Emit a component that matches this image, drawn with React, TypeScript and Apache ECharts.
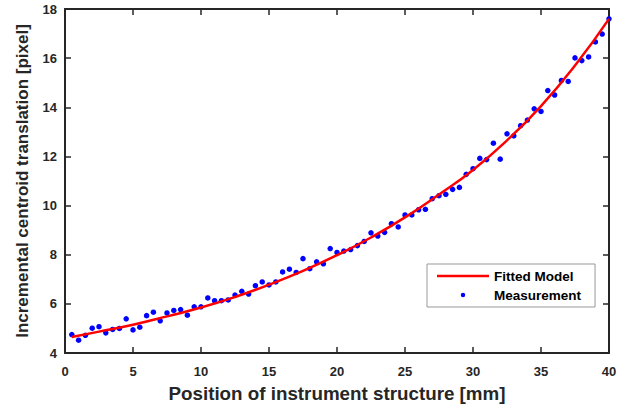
import React, { useEffect, useRef } from "react";
import * as echarts from "echarts";

const measX: number[] = [
  0.5, 1.0, 1.5, 2.0, 2.5, 3.0, 3.5, 4.0, 4.5, 5.0,
  5.5, 6.0, 6.5, 7.0, 7.5, 8.0, 8.5, 9.0, 9.5, 10.0,
  10.5, 11.0, 11.5, 12.0, 12.5, 13.0, 13.5, 14.0, 14.5, 15.0,
  15.5, 16.0, 16.5, 17.0, 17.5, 18.0, 18.5, 19.0, 19.5, 20.0,
  20.5, 21.0, 21.5, 22.0, 22.5, 23.0, 23.5, 24.0, 24.5, 25.0,
  25.5, 26.0, 26.5, 27.0, 27.5, 28.0, 28.5, 29.0, 29.5, 30.0,
  30.5, 31.0, 31.5, 32.0, 32.5, 33.0, 33.5, 34.0, 34.5, 35.0,
  35.5, 36.0, 36.5, 37.0, 37.5, 38.0, 38.5, 39.0, 39.5, 40.0,
];
const measY: number[] = [
  4.75, 4.52, 4.72, 5.01, 5.07, 4.82, 4.96, 5.0, 5.39, 4.94,
  5.05, 5.52, 5.66, 5.31, 5.63, 5.73, 5.77, 5.54, 5.88, 5.88,
  6.24, 6.13, 6.13, 6.16, 6.36, 6.51, 6.4, 6.74, 6.89, 6.77,
  6.89, 7.3, 7.41, 7.28, 7.84, 7.43, 7.71, 7.63, 8.25, 8.09,
  8.15, 8.21, 8.37, 8.54, 8.89, 8.76, 8.91, 9.26, 9.13, 9.62,
  9.62, 9.83, 9.85, 10.28, 10.4, 10.46, 10.66, 10.74, 11.27, 11.5,
  11.92, 11.87, 12.54, 11.89, 12.92, 12.84, 13.25, 13.48, 13.94, 13.83,
  14.68, 14.5, 15.09, 15.05, 16.01, 15.9, 16.05, 16.66, 16.98, 17.6,
];

const fitX: number[] = [0.5, 2.5, 5, 7.5, 10, 12.5, 15, 17.5, 20, 22.5, 25, 27.5, 30, 32.5, 35, 37.5, 40];
const fitY: number[] = [4.65, 4.87, 5.15, 5.49, 5.85, 6.28, 6.78, 7.34, 7.98, 8.7, 9.52, 10.45, 11.45, 12.65, 14.05, 15.7, 17.6];

const FONT = "'Liberation Sans', Arial, sans-serif";
const AXIS_COLOR = "#262626";

export default function App() {
  const ref = useRef<HTMLDivElement>(null);
  useEffect(() => {
    document.body.style.margin = "0";
    if (!ref.current) return;
    const chart = echarts.init(ref.current, null, { renderer: "svg" });
    chart.setOption({
      animation: false,
      grid: { left: 65, right: 20, top: 9, bottom: 56 },
      legend: {
        orient: "vertical",
        left: 427,
        top: 264,
        width: 168,
        backgroundColor: "#ffffff",
        borderColor: "#999999",
        borderWidth: 1,
        padding: [5, 14, 5, 10],
        itemWidth: 52,
        itemHeight: 14,
        itemGap: 5,
        textStyle: { fontFamily: FONT, fontWeight: "bold", fontSize: 13.5, color: "#000000" },
        data: [
          { name: "Fitted Model", icon: "path://M0,-1.3 L52,-1.3 L52,1.3 L0,1.3 Z" },
          {
            name: "Measurement",
            icon: "path://M-10,-10 M10,10 M-3.2,0 A3.2,3.2 0 1,0 3.2,0 A3.2,3.2 0 1,0 -3.2,0 Z",
          },
        ],
      },
      xAxis: [
        {
          type: "value", min: 0, max: 40, interval: 5, position: "bottom",
          axisLine: { show: true, lineStyle: { color: AXIS_COLOR, width: 2 } },
          axisTick: { show: true, inside: true, length: 6, lineStyle: { color: AXIS_COLOR, width: 1.5 } },
          splitLine: { lineStyle: { opacity: 0 } },
          axisLabel: { margin: 12, fontFamily: FONT, fontWeight: "bold", fontSize: 13, color: "#262626" },
          name: "Position of instrument structure [mm]",
          nameLocation: "middle",
          nameGap: 31,
          nameTextStyle: { fontFamily: FONT, fontWeight: "bold", fontSize: 18.8, color: "#262626" },
        },
        {
          type: "value", min: 0, max: 40, interval: 5, position: "top",
          axisLine: { show: true, lineStyle: { color: AXIS_COLOR, width: 2 } },
          axisTick: { show: true, inside: true, length: 6, lineStyle: { color: AXIS_COLOR, width: 1.5 } },
          splitLine: { lineStyle: { opacity: 0 } },
          axisLabel: { show: false },
        },
      ],
      yAxis: [
        {
          type: "value", min: 4, max: 18, interval: 2, position: "left",
          axisLine: { show: true, onZero: false, lineStyle: { color: AXIS_COLOR, width: 2 } },
          axisTick: { show: true, inside: true, length: 6, lineStyle: { color: AXIS_COLOR, width: 1.5 } },
          splitLine: { lineStyle: { opacity: 0 } },
          axisLabel: { margin: 8, fontFamily: FONT, fontWeight: "bold", fontSize: 13, color: "#262626" },
          name: "Incremental centroid translation [pixel]",
          nameLocation: "middle",
          nameGap: 34,
          nameRotate: 90,
          nameTextStyle: { fontFamily: FONT, fontWeight: "bold", fontSize: 17, color: "#262626" },
        },
        {
          type: "value", min: 4, max: 18, interval: 2, position: "right",
          axisLine: { show: true, onZero: false, lineStyle: { color: AXIS_COLOR, width: 2 } },
          axisTick: { show: true, inside: true, length: 6, lineStyle: { color: AXIS_COLOR, width: 1.5 } },
          splitLine: { lineStyle: { opacity: 0 } },
          axisLabel: { show: false },
        },
      ],
      series: [
        {
          name: "Fitted Model",
          type: "line",
          smooth: true,
          symbol: "none",
          lineStyle: { color: "#ff0000", width: 2.5 },
          itemStyle: { color: "#ff0000" },
          data: fitX.map((x, i) => [x, fitY[i]]),
        },
        {
          name: "Measurement",
          type: "scatter",
          symbol: "circle",
          symbolSize: 5.5,
          itemStyle: { color: "#0000ff", opacity: 1 },
          data: measX.map((x, i) => [x, measY[i]]),
        },
      ],
    });
    return () => chart.dispose();
  }, []);
  return <div ref={ref} style={{ width: 629, height: 409 }} />;
}
